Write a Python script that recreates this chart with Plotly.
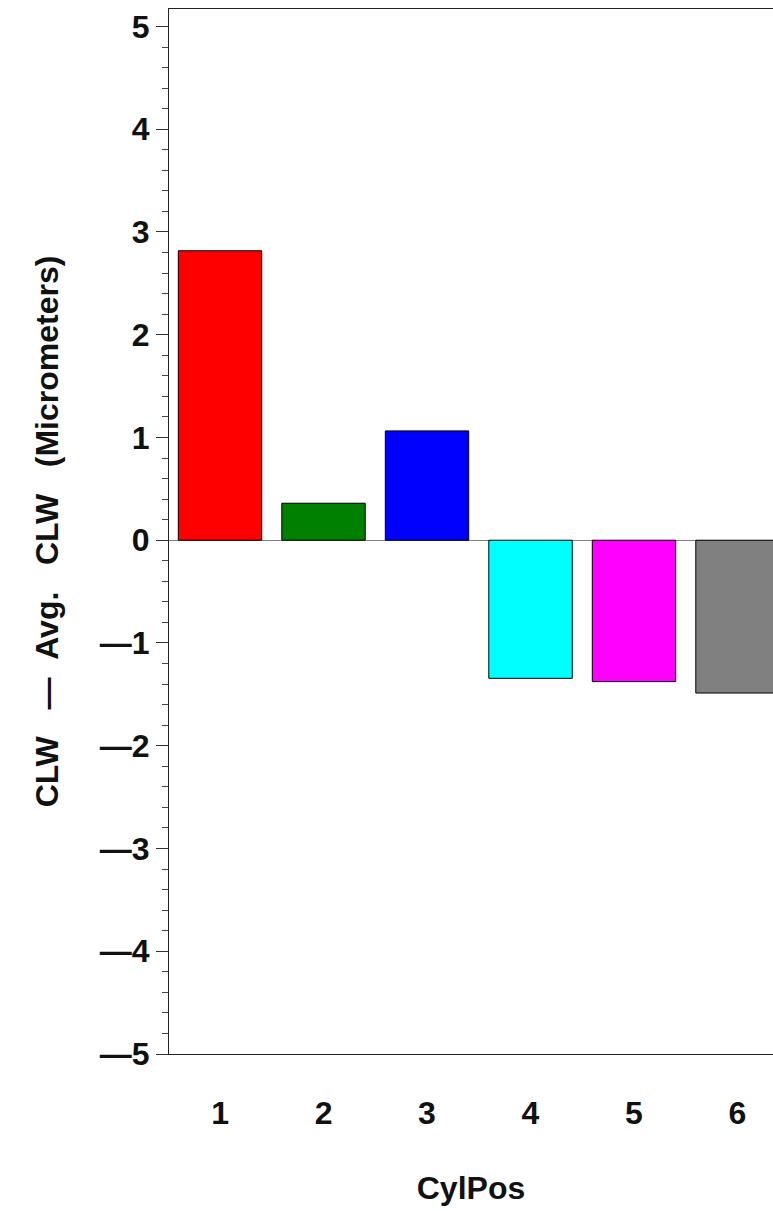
import plotly.graph_objects as go

categories = [1, 2, 3, 4, 5, 6]
values = [2.817, 0.36, 1.064, -1.344, -1.376, -1.487]
bar_colors = ["#FF0000", "#008000", "#0000FF", "#00FFFF", "#FF00FF", "#808080"]
y_tickvals = [-5, -4, -3, -2, -1, 0, 1, 2, 3, 4, 5]
y_ticktext = ["\u20145", "\u20144", "\u20143", "\u20142", "\u20141", "0", "1", "2", "3", "4", "5"]
x_ticktext = ["1", "2", "3", "4", "5", "6"]
x_title = "CylPos"
y_title = ("CLW\u00a0\u00a0\u00a0\u2014\u00a0\u00a0Avg.\u00a0\u00a0\u00a0CLW"
           "\u00a0\u00a0\u00a0(Micrometers)")

FONT = "Liberation Sans, Arial, Helvetica, sans-serif"
INK = "#111111"

fig = go.Figure()
fig.add_trace(go.Bar(
    x=categories, y=values,
    marker=dict(color=bar_colors, line=dict(color="black", width=1)),
    width=0.806,
    showlegend=False,
))

fig.update_layout(
    width=773, height=1211,
    margin=dict(l=169, r=0, t=9, b=157, autoexpand=False),
    paper_bgcolor="white", plot_bgcolor="white",
    font=dict(family=FONT, color=INK, size=32, weight="bold"),
)

fig.update_xaxes(
    range=[0.507, 6.343],
    tickvals=categories, ticktext=x_ticktext,
    ticks="", showgrid=False, zeroline=False,
    showline=True, linecolor="#222222", linewidth=1, mirror=True,
    tickfont=dict(family=FONT, size=32, weight="bold", color=INK),
    ticklabelstandoff=31,
    title=dict(text=x_title, font=dict(family=FONT, size=32, weight="bold", color=INK), standoff=46),
    automargin=False,
)

fig.update_yaxes(
    range=[-5, 5.17],
    tickvals=y_tickvals, ticktext=y_ticktext,
    ticks="outside", ticklen=12, tickwidth=1, tickcolor="#333333",
    minor=dict(dtick=0.2, tick0=0, ticks="outside", ticklen=6, tickwidth=1, tickcolor="#444444"),
    showgrid=False,
    zeroline=True, zerolinecolor="#808080", zerolinewidth=1,
    showline=True, linecolor="#222222", linewidth=1,
    tickfont=dict(family=FONT, size=32, weight="bold", color=INK),
    title=dict(text=y_title, font=dict(family=FONT, size=32, weight="bold", color=INK), standoff=31),
    automargin=False,
)

fig.write_html("out.html", config={"displayModeBar": False},
               post_script="document.body.style.margin='0';")
